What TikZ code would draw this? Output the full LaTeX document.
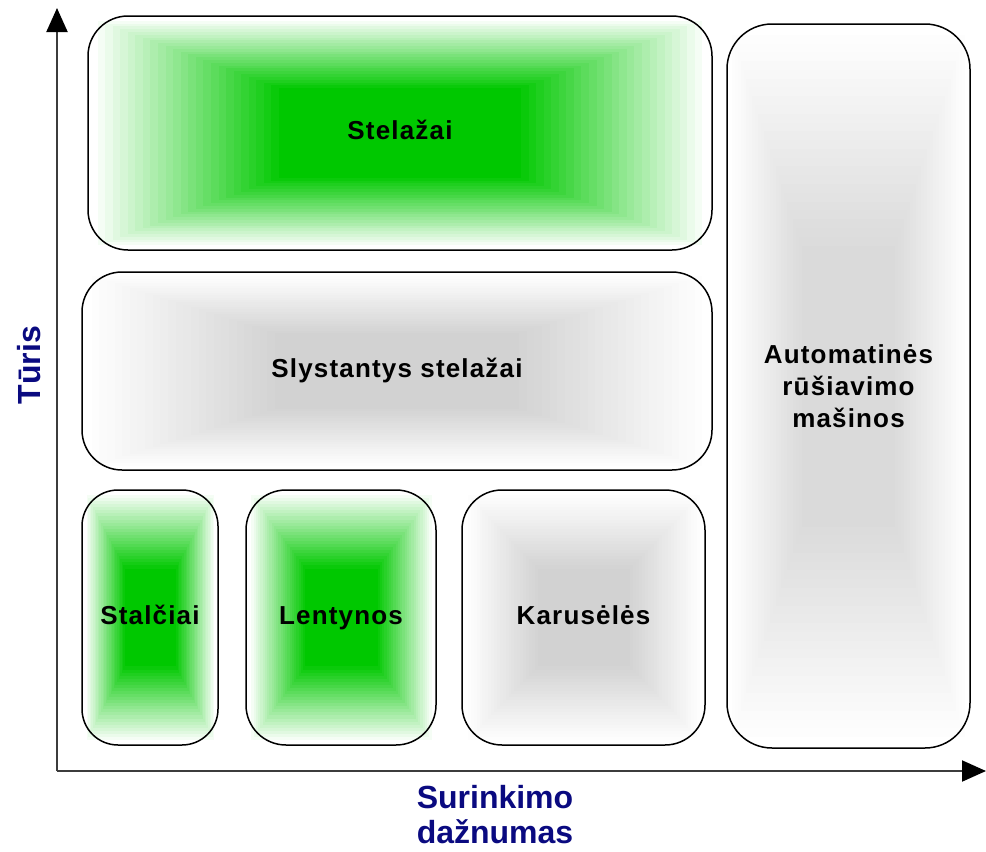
\documentclass[tikz,border=0pt]{standalone}
\usepackage{fontspec}
\setmainfont{Liberation Sans}
\usetikzlibrary{arrows.meta}
\definecolor{gcen}{RGB}{0,200,0}
\definecolor{scen}{RGB}{210,210,210}
\definecolor{acen}{RGB}{218,218,218}
\definecolor{navyblue}{RGB}{10,10,128}
\definecolor{axisgray}{RGB}{60,60,60}
\newcommand{\gradfill}[5]{%
  \foreach \i in {0,...,40}{%
    \pgfmathsetmacro{\p}{min(100,\i*2.5*1.6)}%
    \pgfmathsetmacro{\f}{\i/82}%
    \pgfmathsetmacro{\ax}{#1+\f*(#3-#1)}%
    \pgfmathsetmacro{\ay}{#2+\f*(#4-#2)}%
    \pgfmathsetmacro{\bx}{#3-\f*(#3-#1)}%
    \pgfmathsetmacro{\by}{#4-\f*(#4-#2)}%
    \fill[#5!\p!white] (\ax,\ay) rectangle (\bx,\by);
  }}
\tikzset{
  box/.style={draw=black, line width=1.5pt, rounded corners=#1, inner sep=0pt,
    font=\fontsize{26}{32}\selectfont\bfseries\addfontfeatures{LetterSpace=4.5}, align=center},
  box/.default=40pt,
  fixline/.style={text height=19pt, text depth=6pt},
  axis/.style={draw=axisgray, line width=2pt, -{Triangle[length=24pt,width=21pt,fill=black,color=black]}},
  axlabel/.style={text=navyblue, font=\fontsize{32}{35}\selectfont\bfseries, align=center}
}
\begin{document}
\begin{tikzpicture}[x=1pt,y=-1pt]
\useasboundingbox (0,0) rectangle (986,852);
% gradients
\gradfill{90}{18}{710}{248}{gcen}
\gradfill{84}{274}{710}{468}{scen}
\gradfill{729}{26}{968}{746}{acen}
\gradfill{85}{492}{216}{743}{gcen}
\gradfill{249}{492}{434}{743}{gcen}
\gradfill{465}{492}{703}{743}{scen}
% boxes
\node[box, fixline, minimum width=624pt, minimum height=234pt] (stel) at (400,133) {Stelažai};
\node[box, fixline, minimum width=630pt, minimum height=198pt] (slys) at (397,371) {Slystantys stelažai};
\node[box=45pt, minimum width=243pt, minimum height=724pt] (auto) at (848.5,386) {Automatinės\\rūšiavimo\\mašinos};
\node[box=36pt, fixline, minimum width=136pt, minimum height=255pt] (stal) at (150,617.5) {Stalčiai};
\node[box, fixline, minimum width=190pt, minimum height=255pt] (lent) at (341,617.5) {Lentynos};
\node[box, fixline, minimum width=243pt, minimum height=255pt] (karu) at (583.5,617.5) {Karusėlės};
% axes
\coordinate (orig) at (57,771);
\coordinate (ytop) at (57,8);
\coordinate (xend) at (986,771);
\draw[axis] (orig) -- (ytop);
\draw[axis] (orig) -- (xend);
\node[axlabel, rotate=90] (ylab) at (29,365) {Tūris};
\node[axlabel] (xlab) at (495,815) {Surinkimo\\dažnumas};
\end{tikzpicture}
\end{document}
